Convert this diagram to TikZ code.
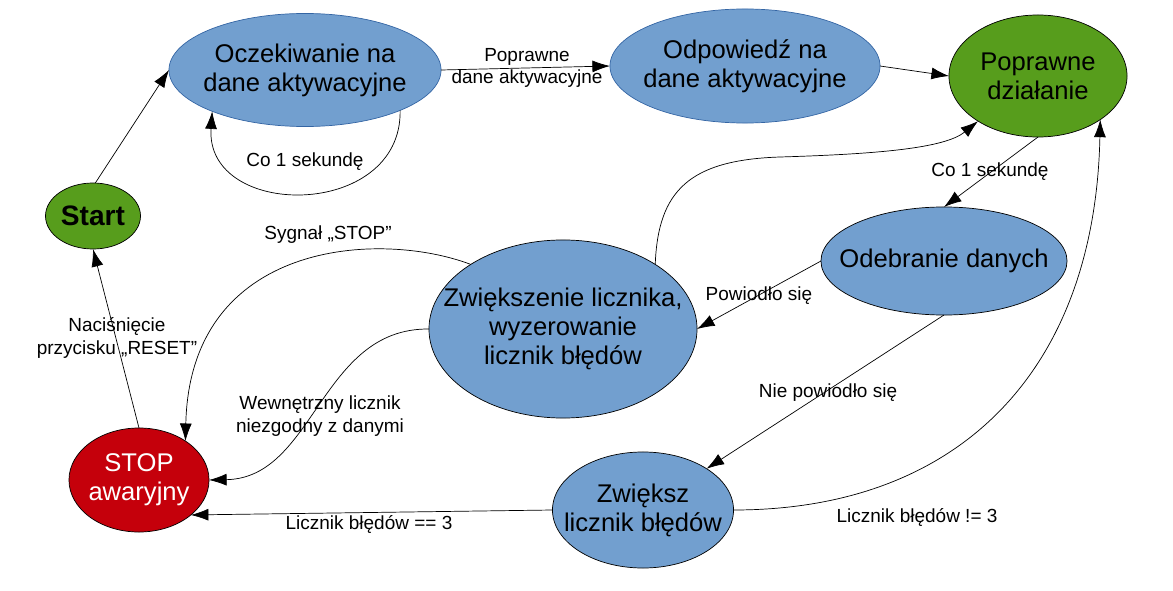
\documentclass[tikz,border=0pt]{standalone}
\usepackage{fontspec}
\setmainfont{Liberation Sans}
\usepackage{tikz}
\usetikzlibrary{arrows.meta,shapes.geometric}

\definecolor{blu}{HTML}{729FCF}
\definecolor{blueline}{HTML}{3465A4}
\definecolor{grn}{HTML}{579D1C}
\definecolor{rd}{HTML}{C5000B}

\tikzset{
  st/.style={ellipse, draw=black, line width=0.5pt, inner sep=0pt, outer sep=0pt},
  txt/.style={align=center, font=\fontsize{18.2}{20.6}\selectfont},
  lbl/.style={align=center, font=\fontsize{13.5}{15.8}\selectfont},
  arr/.style={-{Latex[length=12.5pt,width=8.5pt]}, line width=0.5pt}
}

\begin{document}
\begin{tikzpicture}[x=0.025cm, y=-0.025cm]
  \useasboundingbox (0,0) rectangle (1173,591);
  \node(start)[st, fill=grn, minimum width=2.375cm, minimum height=1.65cm, label={[txt, font=\fontsize{20}{22}\selectfont\bfseries]center:Start}] at (93,216) {};
  \node(wait)[st, draw=blueline, fill=blu, minimum width=6.8cm, minimum height=2.825cm, label={[txt]center:{Oczekiwanie na\\dane aktywacyjne}}] at (305,70) {};
  \node(resp)[st, draw=blueline, fill=blu, minimum width=6.75cm, minimum height=2.85cm, label={[txt]center:{Odpowiedź na\\dane aktywacyjne}}] at (745,66) {};
  \node(ok)[st, fill=grn, minimum width=4.45cm, minimum height=3.05cm, label={[txt]center:{Poprawne\\działanie}}] at (1038,76) {};
  \node(recv)[st, fill=blu, minimum width=6.15cm, minimum height=2.7cm, label={[txt]center:Odebranie danych}] at (944,261) {};
  \node(inc)[st, fill=blu, minimum width=6.7cm, minimum height=4.45cm, label={[txt]center:{Zwiększenie licznika,\\wyzerowanie\\licznik błędów}}] at (563,329) {};
  \node(stop)[st, fill=rd, minimum width=3.5cm, minimum height=2.6cm, label={[txt, text=white]center:{STOP\\awaryjny}}] at (139,480) {};
  \node(err)[st, fill=blu, minimum width=4.525cm, minimum height=2.9cm, label={[txt]center:{Zwiększ\\licznik błędów}}] at (643,510) {};

  \draw[arr] (start.86) -- (wait.180);
  \draw[arr] (wait.-23) .. controls (402,220) and (205,220) .. (wait.-156);
  \draw[arr] (wait.0) -- (resp.180);
  \draw[arr] (resp.0) -- (ok.180);
  \draw[arr] (ok.-90) -- (recv.90);
  \draw[arr] (recv.180) -- (inc.0);
  \draw[arr] (recv.-90) -- (err.33);
  \draw[arr] (err.0) .. controls (960,510) and (1095,370) .. (ok.-35);
  \draw[arr] (err.180) -- (stop.-34);
  \draw[arr] (stop.90) -- (start.-90);
  \draw[arr] (inc.145) .. controls (380,230) and (190,240) .. (stop.40);
  \draw[arr] (inc.180) .. controls (320,328) and (315,478) .. (stop.0);
  \draw[arr] (inc.35) .. controls (658,190) and (690,160) .. (780,157) .. controls (880,154) and (945,148) .. (ok.-143);

  \node(lwait)[lbl] at (305,162) {Co 1 sekundę};
  \node(lact)[lbl] at (527,68) {Poprawne\\dane aktywacyjne};
  \node(lsec)[lbl] at (990,172) {Co 1 sekundę};
  \node(lyes)[lbl] at (759,296) {Powiodło się};
  \node(lno)[lbl] at (828,393) {Nie powiodło się};
  \node(lneq)[lbl] at (917,517) {Licznik błędów != 3};
  \node(leq)[lbl] at (369,524) {Licznik błędów == 3};
  \node(lreset)[lbl] at (117,338) {Naciśnięcie\\przycisku „RESET”};
  \node(lsig)[lbl] at (328,235) {Sygnał „STOP”};
  \node(lcnt)[lbl] at (320,416) {Wewnętrzny licznik\\niezgodny z danymi};
\end{tikzpicture}
\end{document}
